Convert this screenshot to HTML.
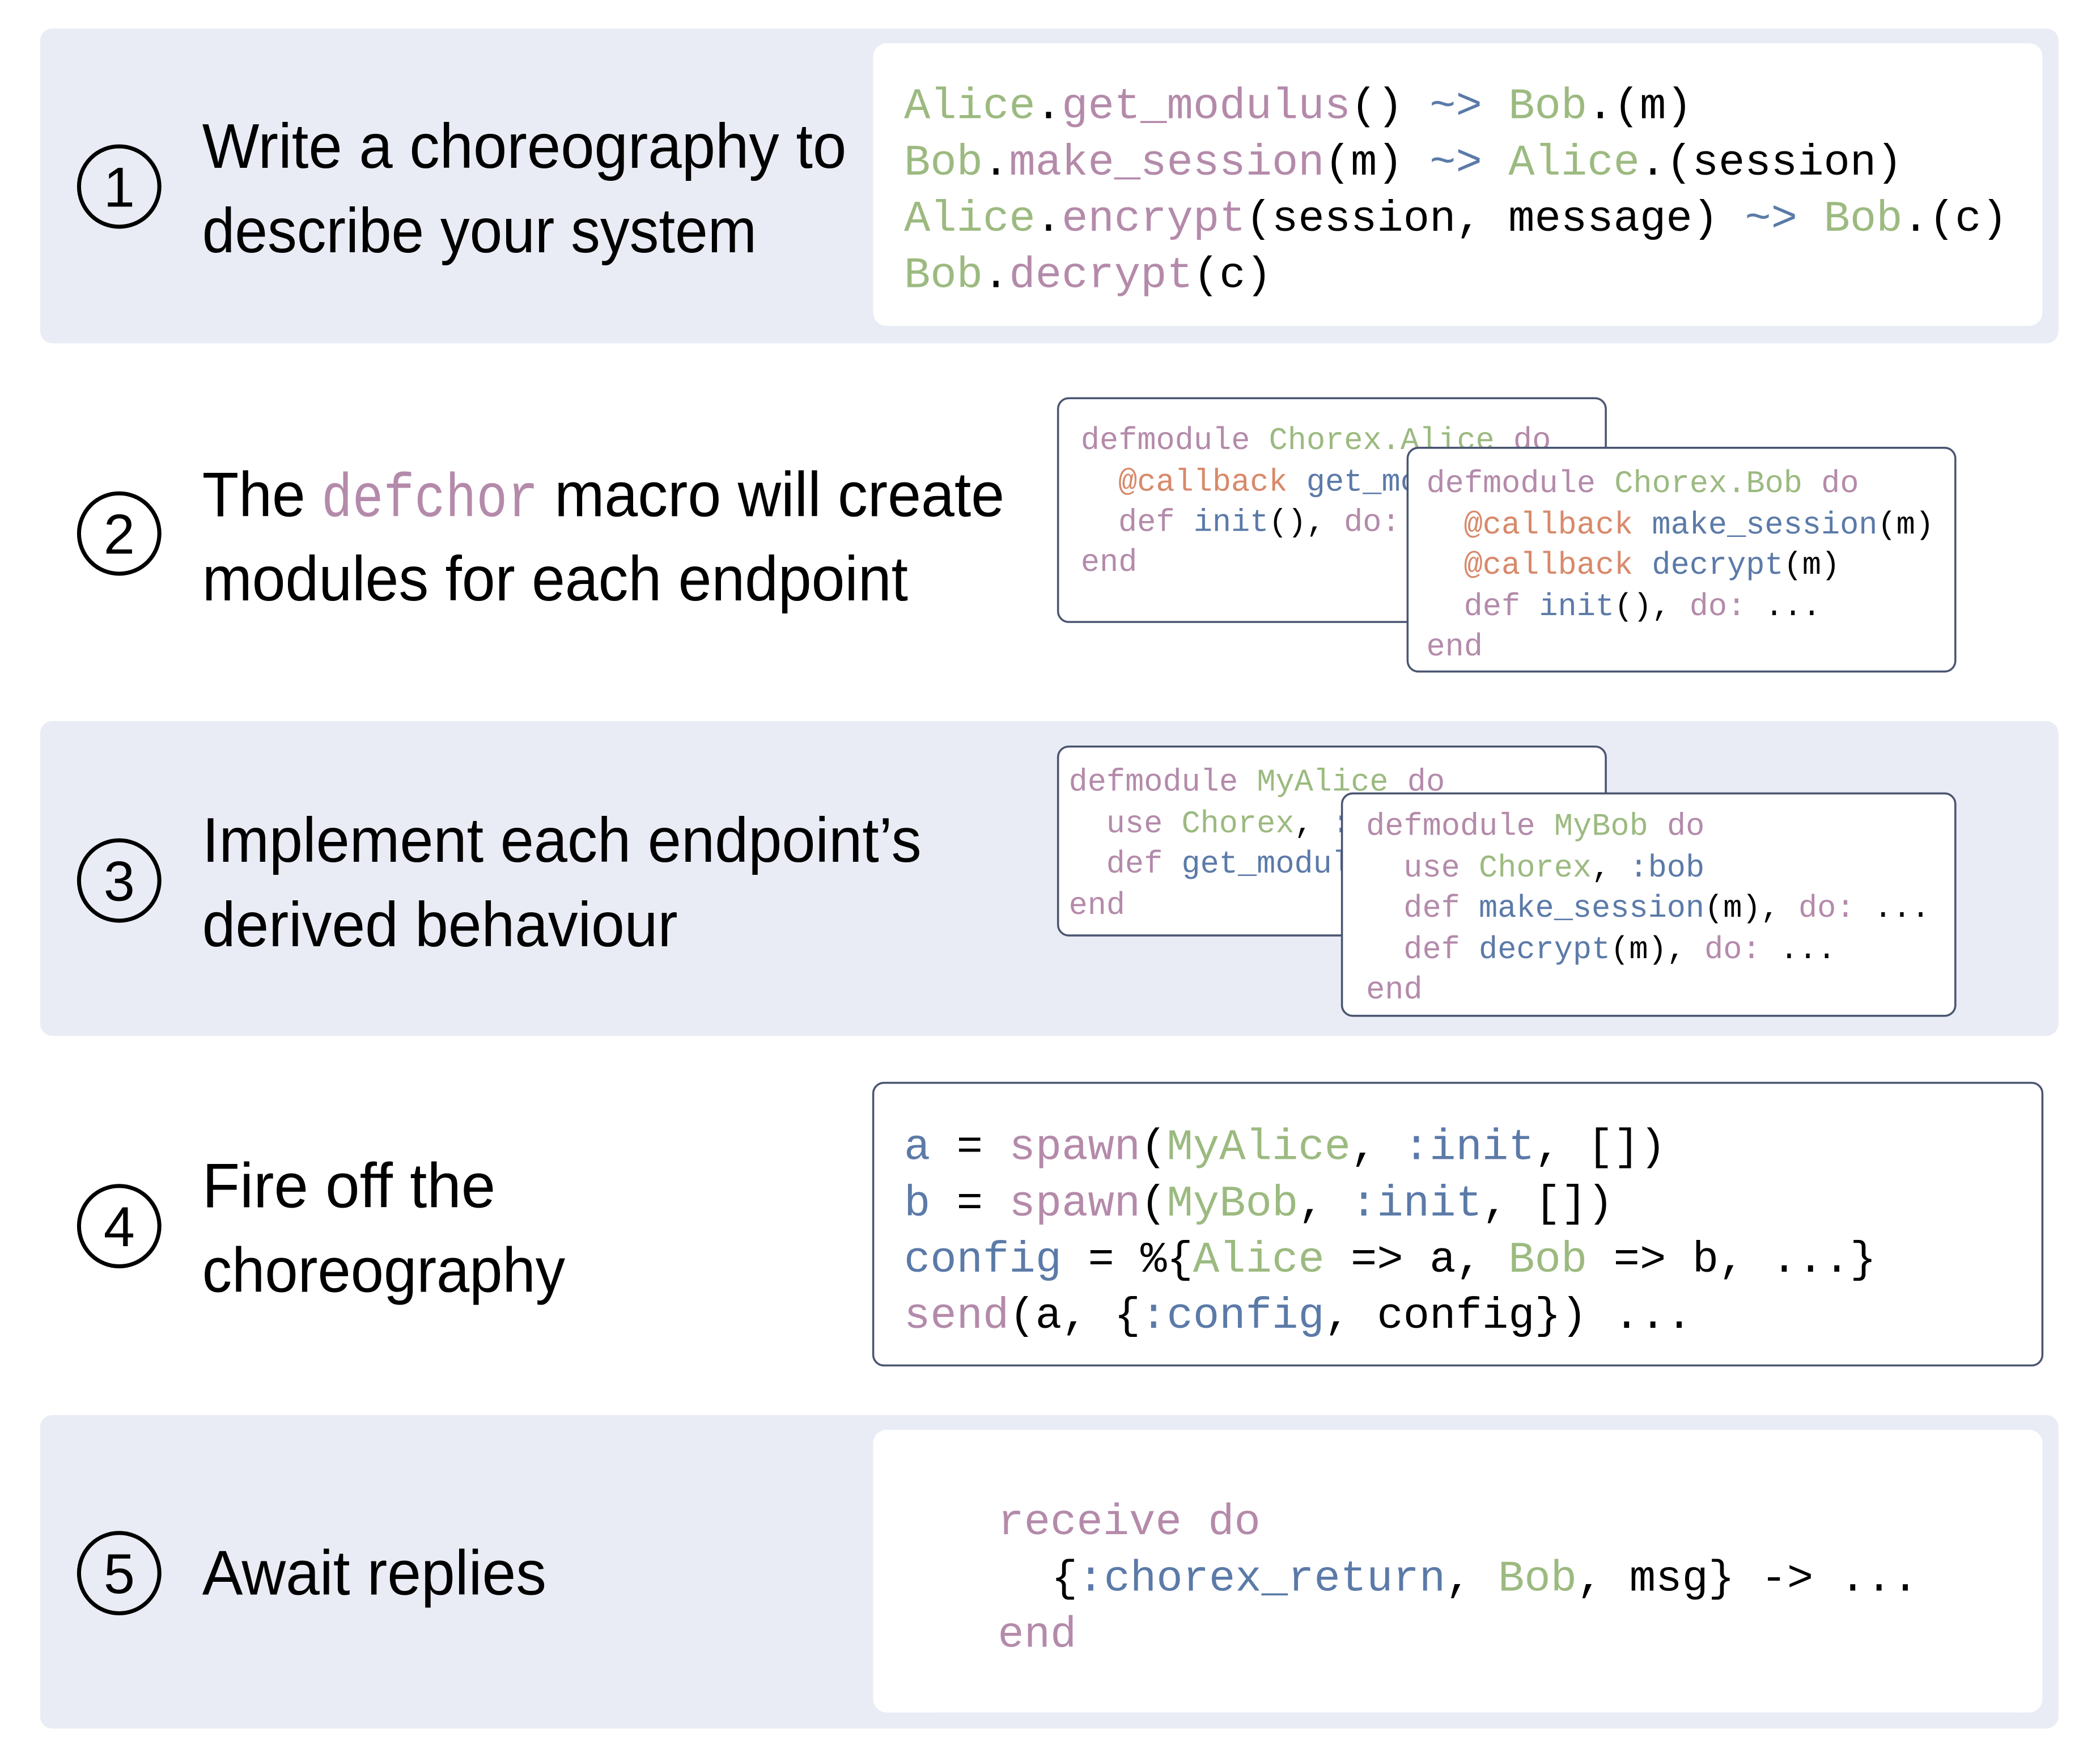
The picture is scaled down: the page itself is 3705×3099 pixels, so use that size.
<!DOCTYPE html>
<html><head><meta charset="utf-8"><style>
html,body{margin:0;padding:0;background:#fff;}
svg{display:block;}
text{white-space:pre;}
.h{font-family:"Liberation Sans",sans-serif;font-size:47px;fill:#000;}
.n{font-family:"Liberation Sans",sans-serif;font-size:42px;fill:#000;text-anchor:middle;}
.m{font-family:"Liberation Mono",monospace;font-size:32.7px;fill:#000;}
.s{font-family:"Liberation Mono",monospace;font-size:23.4px;fill:#000;}
.g{fill:#9cba80}.p{fill:#b48aaa}.b{fill:#5b7aa8}.o{fill:#d8896a}.k{fill:#000}
</style></head><body>
<svg width="3705" height="3099" viewBox="0 0 1568 1311" xmlns="http://www.w3.org/2000/svg" xml:space="preserve">
<rect x="30" y="21" width="1507" height="235" rx="9" fill="#e9ecf4"/>
<rect x="30" y="538" width="1507" height="235" rx="9" fill="#e9ecf4"/>
<rect x="30" y="1056" width="1507" height="234" rx="9" fill="#e9ecf4"/>

<g fill="none" stroke="#000" stroke-width="3">
<circle cx="89" cy="139" r="30"/>
<circle cx="89" cy="398" r="30"/>
<circle cx="89" cy="657" r="30"/>
<circle cx="89" cy="915" r="30"/>
<circle cx="89" cy="1174" r="30"/>
</g>
<text class="n" x="89" y="154">1</text>
<text class="n" x="89" y="413">2</text>
<text class="n" x="89" y="672">3</text>
<text class="n" x="89" y="930">4</text>
<text class="n" x="89" y="1189">5</text>

<text class="h" x="151" y="125" textLength="481" lengthAdjust="spacingAndGlyphs">Write a choreography to</text>
<text class="h" x="151" y="188" textLength="414" lengthAdjust="spacingAndGlyphs">describe your system</text>
<text class="h" x="151" y="385" textLength="77" lengthAdjust="spacingAndGlyphs">The</text>
<text class="m p" x="240" y="385" style="font-size:46px" textLength="162" lengthAdjust="spacingAndGlyphs">defchor</text>
<text class="h" x="414" y="385" textLength="336" lengthAdjust="spacingAndGlyphs">macro will create</text>
<text class="h" x="151" y="448" textLength="527" lengthAdjust="spacingAndGlyphs">modules for each endpoint</text>
<text class="h" x="151" y="643" textLength="537" lengthAdjust="spacingAndGlyphs">Implement each endpoint’s</text>
<text class="h" x="151" y="706" textLength="355" lengthAdjust="spacingAndGlyphs">derived behaviour</text>
<text class="h" x="151" y="901" textLength="219" lengthAdjust="spacingAndGlyphs">Fire off the</text>
<text class="h" x="151" y="964" textLength="271" lengthAdjust="spacingAndGlyphs">choreography</text>
<text class="h" x="151" y="1190" textLength="257" lengthAdjust="spacingAndGlyphs">Await replies</text>

<rect x="652" y="32" width="873" height="211" rx="10" fill="#fff"/>
<text class="m" x="675" y="88"><tspan class="g">Alice</tspan>.<tspan class="p">get_modulus</tspan>() <tspan class="b">~&gt;</tspan> <tspan class="g">Bob</tspan>.(m)</text>
<text class="m" x="675" y="130"><tspan class="g">Bob</tspan>.<tspan class="p">make_session</tspan>(m) <tspan class="b">~&gt;</tspan> <tspan class="g">Alice</tspan>.(session)</text>
<text class="m" x="675" y="172"><tspan class="g">Alice</tspan>.<tspan class="p">encrypt</tspan>(session, message) <tspan class="b">~&gt;</tspan> <tspan class="g">Bob</tspan>.(c)</text>
<text class="m" x="675" y="214"><tspan class="g">Bob</tspan>.<tspan class="p">decrypt</tspan>(c)</text>

<rect x="790" y="297" width="409" height="167" rx="8" fill="#fff" stroke="#4a5570" stroke-width="1.5"/>
<text class="s" x="807" y="335"><tspan class="p">defmodule</tspan> <tspan class="g">Chorex.Alice</tspan> <tspan class="p">do</tspan></text>
<text class="s" x="835" y="366"><tspan class="o">@callback</tspan> <tspan class="b">get_modulus</tspan>()</text>
<text class="s" x="835" y="396"><tspan class="p">def</tspan> <tspan class="b">init</tspan>(), <tspan class="p">do:</tspan> ...</text>
<text class="s p" x="807" y="426">end</text>
<rect x="1051" y="334" width="409" height="167" rx="8" fill="#fff" stroke="#4a5570" stroke-width="1.5"/>
<text class="s" x="1065" y="367"><tspan class="p">defmodule</tspan> <tspan class="g">Chorex.Bob</tspan> <tspan class="p">do</tspan></text>
<text class="s" x="1093" y="398"><tspan class="o">@callback</tspan> <tspan class="b">make_session</tspan>(m)</text>
<text class="s" x="1093" y="428"><tspan class="o">@callback</tspan> <tspan class="b">decrypt</tspan>(m)</text>
<text class="s" x="1093" y="459"><tspan class="p">def</tspan> <tspan class="b">init</tspan>(), <tspan class="p">do:</tspan> ...</text>
<text class="s p" x="1065" y="489">end</text>

<rect x="790" y="557" width="409" height="141" rx="8" fill="#fff" stroke="#4a5570" stroke-width="1.5"/>
<text class="s" x="798" y="590"><tspan class="p">defmodule</tspan> <tspan class="g">MyAlice</tspan> <tspan class="p">do</tspan></text>
<text class="s" x="826" y="621"><tspan class="p">use</tspan> <tspan class="g">Chorex</tspan>, <tspan class="b">:alice</tspan></text>
<text class="s" x="826" y="651"><tspan class="p">def</tspan> <tspan class="b">get_modulus</tspan>(), <tspan class="p">do:</tspan> ...</text>
<text class="s p" x="798" y="682">end</text>
<rect x="1002" y="592" width="458" height="166" rx="8" fill="#fff" stroke="#4a5570" stroke-width="1.5"/>
<text class="s" x="1020" y="623"><tspan class="p">defmodule</tspan> <tspan class="g">MyBob</tspan> <tspan class="p">do</tspan></text>
<text class="s" x="1048" y="654"><tspan class="p">use</tspan> <tspan class="g">Chorex</tspan>, <tspan class="b">:bob</tspan></text>
<text class="s" x="1048" y="684"><tspan class="p">def</tspan> <tspan class="b">make_session</tspan>(m), <tspan class="p">do:</tspan> ...</text>
<text class="s" x="1048" y="715"><tspan class="p">def</tspan> <tspan class="b">decrypt</tspan>(m), <tspan class="p">do:</tspan> ...</text>
<text class="s p" x="1020" y="745">end</text>

<rect x="652" y="808" width="873" height="211" rx="8" fill="#fff" stroke="#4a5570" stroke-width="1.5"/>
<text class="m" x="675" y="865"><tspan class="b">a</tspan> = <tspan class="p">spawn</tspan>(<tspan class="g">MyAlice</tspan>, <tspan class="b">:init</tspan>, [])</text>
<text class="m" x="675" y="907"><tspan class="b">b</tspan> = <tspan class="p">spawn</tspan>(<tspan class="g">MyBob</tspan>, <tspan class="b">:init</tspan>, [])</text>
<text class="m" x="675" y="949"><tspan class="b">config</tspan> = %{<tspan class="g">Alice</tspan> =&gt; a, <tspan class="g">Bob</tspan> =&gt; b, ...}</text>
<text class="m" x="675" y="991"><tspan class="p">send</tspan>(a, {<tspan class="b">:config</tspan>, config}) ...</text>

<rect x="652" y="1067" width="873" height="211" rx="10" fill="#fff"/>
<text class="m p" x="745" y="1145">receive do</text>
<text class="m" x="785" y="1187">{<tspan class="b">:chorex_return</tspan>, <tspan class="g">Bob</tspan>, msg} -&gt; ...</text>
<text class="m p" x="745" y="1229">end</text>
</svg>
</body></html>
